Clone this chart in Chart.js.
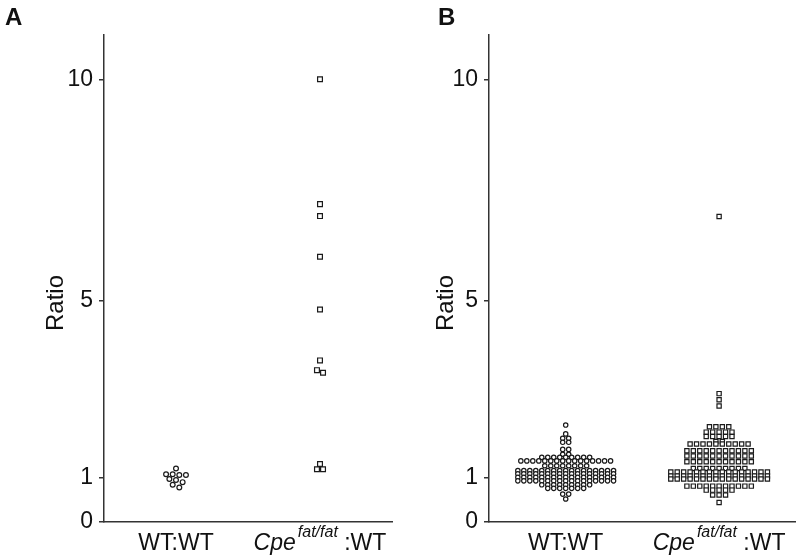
<!DOCTYPE html>
<html>
<head>
<meta charset="utf-8">
<title>Ratio</title>
<script src="https://cdn.jsdelivr.net/npm/chart.js@4.4.0/dist/chart.umd.min.js"></script>
<style>
  html, body { margin: 0; padding: 0; background: #fff; }
  #wrap { position: relative; width: 800px; height: 560px; }
  .panel { position: absolute; top: 0; width: 400px; height: 560px; }
</style>
</head>
<body>
<div id="wrap">
  <div class="panel" style="left:0"><canvas id="chartA"></canvas></div>
  <div class="panel" style="left:400px"><canvas id="chartB"></canvas></div>
</div>
<script>
// categories / ticks
var categories = ['WT:WT', 'Cpe fat/fat :WT'];
var cpeLabel = { base: 'Cpe', sup: 'fat/fat', tail: ' :WT' };
var yTicks = [0, 1, 5, 10];

// panel A - one value per animal
var wtA  = [1.21, 1.08, 1.08, 1.06, 1.06, 0.97, 0.95, 0.90, 0.84, 0.78];
var cpeA = [10.0, 7.18, 6.91, 5.99, 4.80, 3.65, 3.43, 3.37, 1.31, 1.19, 1.19];

// panel B - values read row by row (value, how many points in that row)
var wtB_vals    = [2.19, 1.99, 1.89, 1.80, 1.64, 1.53, 1.46, 1.38, 1.27, 1.16, 1.09, 1.01, 0.93, 0.84, 0.76, 0.63, 0.52];
var wtB_counts  = [1,    1,    2,    2,    2,    2,    9,    16,   8,    17,   17,   17,   17,   9,    7,    2,    1];
var cpeB_vals   = [6.90, 2.90, 2.76, 2.62, 2.15, 2.03, 1.93, 1.82, 1.76, 1.61, 1.49, 1.36, 1.21, 1.13, 1.04, 0.97, 0.81, 0.72, 0.61, 0.44];
var cpeB_counts = [1,    1,    1,    1,    4,    5,    5,    2,    10,   11,   11,   11,   9,    16,   16,   16,   11,   5,    3,    1];

var FONT = '"Liberation Sans", Arial, Helvetica, sans-serif';
var INK = '#111';
var AXIS = '#333';

function expand(vals, counts) {
  var out = [];
  vals.forEach(function (v, i) {
    for (var k = 0; k < counts[i]; k++) out.push(v);
  });
  return out;
}

// rows of near-equal values are spread side by side around the category centre
function swarm(values, center, dx, tol) {
  var sorted = values.slice().sort(function (a, b) { return b - a; });
  var rows = [];
  sorted.forEach(function (v) {
    var row = rows[rows.length - 1];
    if (row && row[0] - v <= tol) row.push(v);
    else rows.push([v]);
  });
  var pts = [];
  rows.forEach(function (row) {
    row.forEach(function (v, i) {
      pts.push({ x: center + (i - (row.length - 1) / 2) * dx, y: v });
    });
  });
  return pts;
}

var textPlugin = {
  id: 'panelText',
  afterDraw: function (chart, args, o) {
    var ctx = chart.ctx;
    var xs = chart.scales.x;
    ctx.save();
    ctx.fillStyle = INK;
    ctx.textBaseline = 'alphabetic';

    // panel letter
    ctx.textAlign = 'left';
    ctx.font = 'bold 24px ' + FONT;
    ctx.fillText(o.letter, o.letterX, 25);

    // y title
    ctx.save();
    ctx.translate(o.titleX, 303);
    ctx.rotate(-Math.PI / 2);
    ctx.textAlign = 'center';
    ctx.font = '24px ' + FONT;
    ctx.fillText('Ratio', 0, 0);
    ctx.restore();

    // category labels
    ctx.textAlign = 'center';
    ctx.font = '23px ' + FONT;
    ctx.fillText(categories[0], xs.getPixelForValue(0.5), 550);

    var fBase = 'italic 23px ' + FONT, fSup = 'italic 16px ' + FONT, fTail = '23px ' + FONT;
    ctx.font = fBase; var w1 = ctx.measureText(cpeLabel.base).width;
    ctx.font = fSup;  var w2 = ctx.measureText(cpeLabel.sup).width;
    ctx.font = fTail; var w3 = ctx.measureText(cpeLabel.tail).width;
    var gap = 2;
    var x0 = xs.getPixelForValue(1.5) - (w1 + gap + w2 + w3) / 2;
    ctx.textAlign = 'left';
    ctx.font = fBase; ctx.fillText(cpeLabel.base, x0, 550);
    ctx.font = fSup;  ctx.fillText(cpeLabel.sup, x0 + w1 + gap, 537);
    ctx.font = fTail; ctx.fillText(cpeLabel.tail, x0 + w1 + gap + w2, 550);
    ctx.restore();
  }
};

function makePanel(p) {
  var wtPts = swarm(p.wt, 0.5, p.dxWT, p.tol);
  var cpePts = swarm(p.cpe, 1.5, p.dxCpe, p.tol);

  return new Chart(document.getElementById(p.id), {
    type: 'scatter',
    data: {
      datasets: [
        {
          label: categories[0],
          data: wtPts,
          pointStyle: 'circle',
          pointRadius: p.rWT,
          pointHoverRadius: p.rWT,
          backgroundColor: '#fff',
          borderColor: '#1a1a1a',
          borderWidth: 1.2
        },
        {
          label: categories[1],
          data: cpePts,
          pointStyle: 'rect',
          pointRadius: p.rCpe,
          pointHoverRadius: p.rCpe,
          backgroundColor: '#fff',
          borderColor: '#1a1a1a',
          borderWidth: 1.2
        }
      ]
    },
    options: {
      responsive: true,
      maintainAspectRatio: false,
      animation: false,
      layout: { padding: { top: 35, right: p.padRight, left: 0, bottom: 0 } },
      plugins: {
        legend: { display: false },
        tooltip: { enabled: false },
        panelText: { letter: p.letter, letterX: p.letterX, titleX: p.titleX }
      },
      scales: {
        x: {
          type: 'linear',
          min: 0,
          max: 2,
          ticks: { display: false },
          grid: { display: false },
          border: { display: true, color: AXIS, width: 1.5 },
          afterFit: function (s) { s.height = 38; }
        },
        y: {
          type: 'linear',
          min: 0,
          max: 11,
          afterBuildTicks: function (s) {
            s.ticks = yTicks.map(function (v) { return { value: v }; });
          },
          ticks: {
            color: INK,
            padding: 6,
            font: { family: FONT, size: 23 }
          },
          grid: {
            drawOnChartArea: false,
            drawTicks: true,
            tickLength: 5,
            color: AXIS,
            lineWidth: 1.5
          },
          border: { display: true, color: AXIS, width: 1.5 },
          afterFit: function (s) { s.width = p.yWidth; }
        }
      }
    },
    plugins: [textPlugin]
  });
}

makePanel({
  id: 'chartA', letter: 'A', letterX: 5, titleX: 63, yWidth: 104, padRight: 8,
  wt: wtA, cpe: cpeA, tol: 0.07, dxWT: 0.046, dxCpe: 0.042, rWT: 2.4, rCpe: 3.4
});
makePanel({
  id: 'chartB', letter: 'B', letterX: 38, titleX: 53, yWidth: 89, padRight: 4,
  wt: expand(wtB_vals, wtB_counts), cpe: expand(cpeB_vals, cpeB_counts),
  tol: 0.03, dxWT: 0.039, dxCpe: 0.042, rWT: 2.2, rCpe: 3.0
});
</script>
</body>
</html>
